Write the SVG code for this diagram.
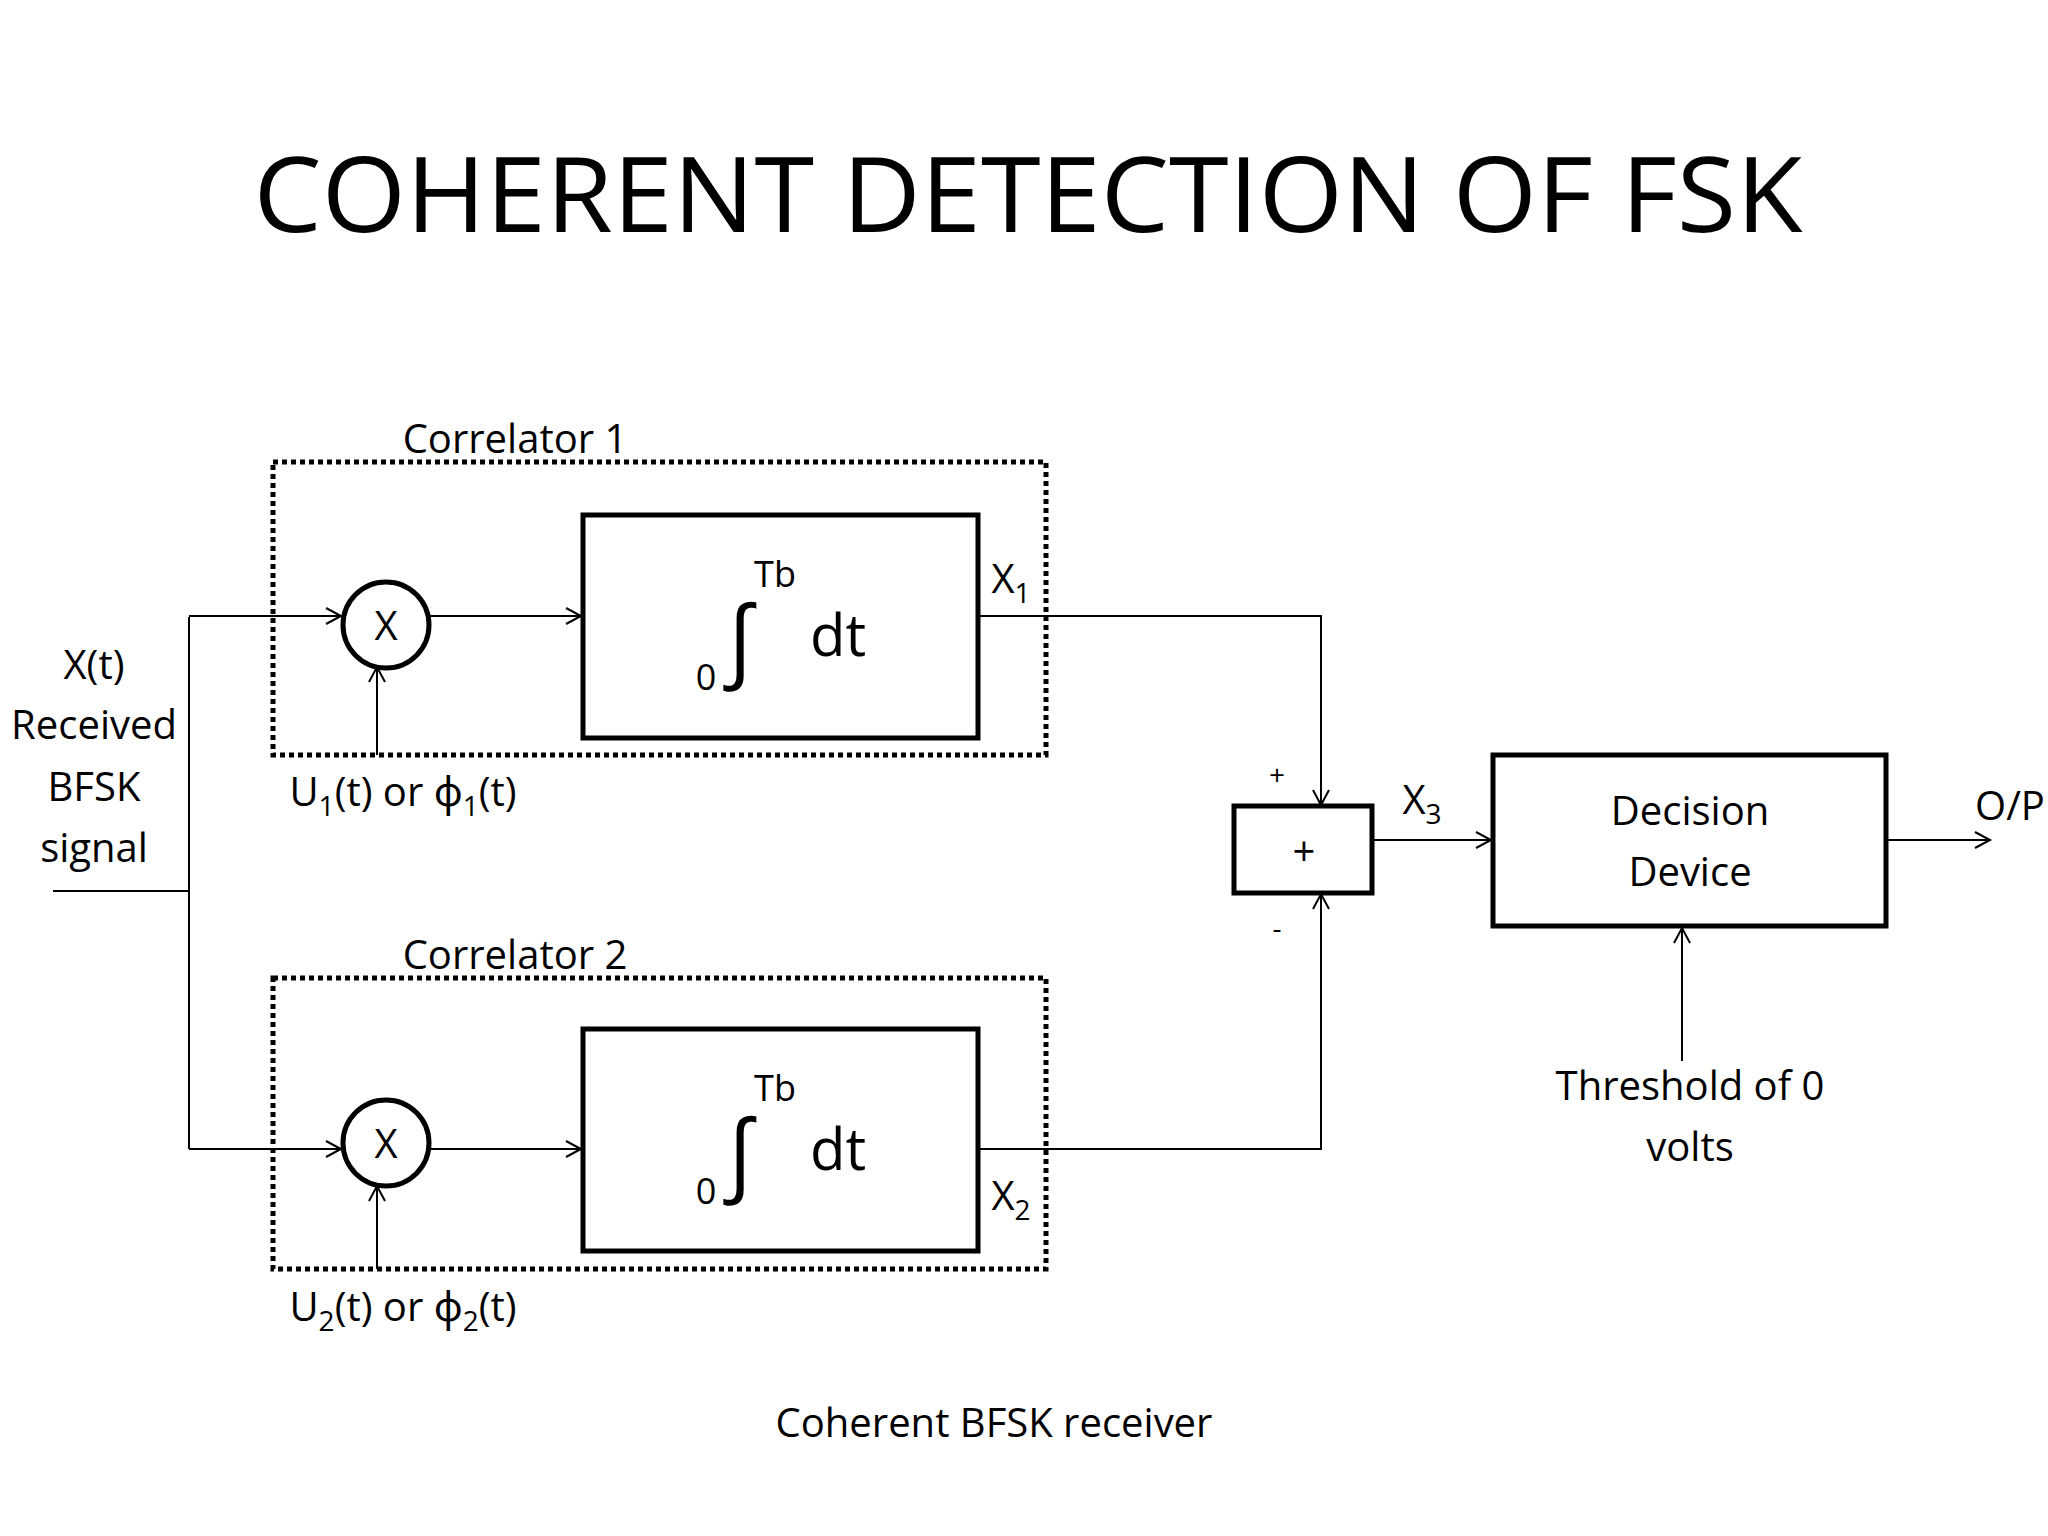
<svg xmlns="http://www.w3.org/2000/svg" width="2048" height="1536" viewBox="0 0 2048 1536">
<style>
text{font-family:"Open Sans","Noto Sans",sans-serif;fill:#000;text-anchor:middle}
.t{font-size:40px}
.s{font-size:28px}
.box{fill:none;stroke:#000;stroke-width:5}
.dot{fill:none;stroke:#000;stroke-width:5;stroke-dasharray:5 4}
.ln{fill:none;stroke:#000;stroke-width:2}
</style>
<defs>
<marker id="a" markerWidth="20" markerHeight="20" refX="17" refY="10" orient="auto" markerUnits="userSpaceOnUse">
<path d="M2,2 L17,10 L2,18" fill="none" stroke="#000" stroke-width="2"/>
</marker>
</defs>
<rect width="2048" height="1536" fill="#fff"/>
<text x="1028" y="232" style="font-size:104px" textLength="1549" lengthAdjust="spacingAndGlyphs">COHERENT DETECTION OF FSK</text>
<g id="connectors">
<path class="ln" d="M53,891 H189 M189,617 V1149"/>
<path class="ln" d="M189,616 H341" marker-end="url(#a)"/>
<path class="ln" d="M429,616 H581" marker-end="url(#a)"/>
<path class="ln" d="M377,755 V667" marker-end="url(#a)"/>
<path class="ln" d="M979,616 H1321 V805" marker-end="url(#a)"/>
<path class="ln" d="M189,1149 H341" marker-end="url(#a)"/>
<path class="ln" d="M429,1149 H581" marker-end="url(#a)"/>
<path class="ln" d="M377,1269 V1186" marker-end="url(#a)"/>
<path class="ln" d="M979,1149 H1321 V894" marker-end="url(#a)"/>
<path class="ln" d="M1372,840 H1491" marker-end="url(#a)"/>
<path class="ln" d="M1886,840 H1990" marker-end="url(#a)"/>
<path class="ln" d="M1682,1061 V928" marker-end="url(#a)"/>
</g>
<g id="correlator1">
<rect class="dot" x="273" y="462" width="773" height="293"/>
<text class="t" x="515" y="453">Correlator 1</text>
</g>
<g id="mult1">
<circle class="box" cx="386" cy="625" r="43"/>
<text class="t" x="386" y="640">X</text>
</g>
<g id="int1">
<rect class="box" x="583" y="515" width="395" height="223"/>
<text x="740" y="670" style="font-size:90px">∫</text>
<text class="s" x="775" y="587" style="font-size:36px">Tb</text>
<text class="s" x="706" y="690" style="font-size:36px">0</text>
<text x="838" y="656" style="font-size:58px">dt</text>
</g>
<g id="correlator2">
<rect class="dot" x="273" y="978" width="773" height="291"/>
<text class="t" x="515" y="969">Correlator 2</text>
</g>
<g id="mult2">
<circle class="box" cx="386" cy="1143" r="43"/>
<text class="t" x="386" y="1158">X</text>
</g>
<g id="int2">
<rect class="box" x="583" y="1029" width="395" height="222"/>
<text x="740" y="1184" style="font-size:90px">∫</text>
<text class="s" x="775" y="1101" style="font-size:36px">Tb</text>
<text class="s" x="706" y="1204" style="font-size:36px">0</text>
<text x="838" y="1170" style="font-size:58px">dt</text>
</g>
<g id="sum">
<rect class="box" x="1234" y="806" width="138" height="87"/>
<text class="t" x="1304" y="866">+</text>
<text class="s" x="1277" y="785">+</text>
<text class="s" x="1277" y="938">-</text>
</g>
<g id="decision">
<rect class="box" x="1493" y="755" width="393" height="171"/>
<text class="t" x="1690" y="825">Decision</text>
<text class="t" x="1690" y="886">Device</text>
</g>
<g id="labels">
<text class="t" x="94" y="679">X(t)</text>
<text class="t" x="94" y="739">Received</text>
<text class="t" x="94" y="801">BFSK</text>
<text class="t" x="94" y="862">signal</text>
<text class="t" x="403" y="806">U<tspan class="s" dy="10">1</tspan><tspan dy="-10">(t) or ϕ</tspan><tspan class="s" dy="10">1</tspan><tspan dy="-10">(t)</tspan></text>
<text class="t" x="403" y="1321">U<tspan class="s" dy="10">2</tspan><tspan dy="-10">(t) or ϕ</tspan><tspan class="s" dy="10">2</tspan><tspan dy="-10">(t)</tspan></text>
<text class="t" x="1011" y="593">X<tspan class="s" dy="10">1</tspan></text>
<text class="t" x="1011" y="1210">X<tspan class="s" dy="10">2</tspan></text>
<text class="t" x="1422" y="814">X<tspan class="s" dy="10">3</tspan></text>
<text class="t" x="2010" y="820">O/P</text>
<text class="t" x="1690" y="1100">Threshold of 0</text>
<text class="t" x="1690" y="1161">volts</text>
<text class="t" x="994" y="1437">Coherent BFSK receiver</text>
</g>
</svg>
